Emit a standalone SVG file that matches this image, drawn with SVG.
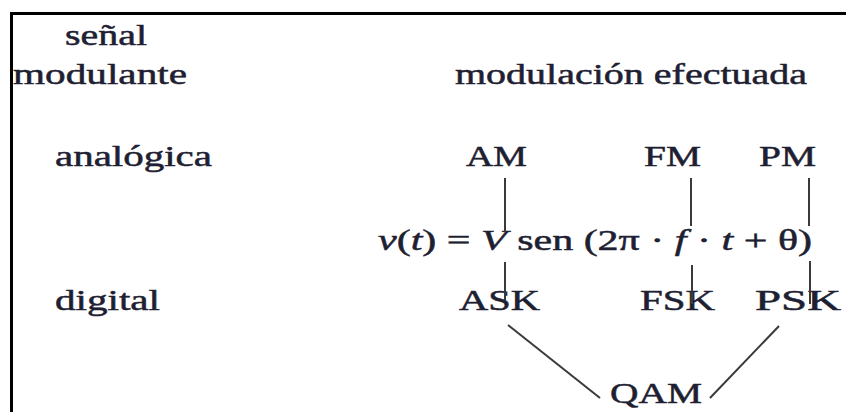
<svg xmlns="http://www.w3.org/2000/svg" width="846" height="412" viewBox="0 0 846 412">
<style>
text{font-family:"Liberation Serif","Times New Roman",serif;font-size:29px;fill:#1f1f33;stroke:#1f1f33;stroke-width:0.5}
.i{font-style:italic}
.c{stroke:#3a3a3a;stroke-width:2;fill:none}
</style>
<rect width="846" height="412" fill="#fff"/>
<path d="M11.5 412 V13.5 H846" fill="none" stroke="#000" stroke-width="3"/>
<g id="hdr-senal"><text x="65" y="45" textLength="82" lengthAdjust="spacingAndGlyphs">señal</text><text x="13" y="84" textLength="174" lengthAdjust="spacingAndGlyphs">modulante</text></g>
<g id="hdr-mod"><text x="455" y="84" textLength="352" lengthAdjust="spacingAndGlyphs">modulación efectuada</text></g>
<g id="row-analogica"><text x="55" y="166" textLength="157" lengthAdjust="spacingAndGlyphs">analógica</text></g>
<g id="AM"><text x="466" y="166" textLength="61" lengthAdjust="spacingAndGlyphs">AM</text></g>
<g id="FM"><text x="644" y="166" textLength="57" lengthAdjust="spacingAndGlyphs">FM</text></g>
<g id="PM"><text x="759" y="166" textLength="57" lengthAdjust="spacingAndGlyphs">PM</text></g>
<g id="formula"><text x="378" y="250" textLength="434" lengthAdjust="spacingAndGlyphs"><tspan class="i">v</tspan>(<tspan class="i">t</tspan>) = <tspan class="i">V</tspan> sen (2π · <tspan class="i">f</tspan> · <tspan class="i">t</tspan> + θ)</text></g>
<g id="row-digital"><text x="55" y="310" textLength="105" lengthAdjust="spacingAndGlyphs">digital</text></g>
<g id="ASK"><text x="459" y="310" textLength="81" lengthAdjust="spacingAndGlyphs">ASK</text></g>
<g id="FSK"><text x="640" y="310" textLength="75" lengthAdjust="spacingAndGlyphs">FSK</text></g>
<g id="PSK"><text x="755" y="310" textLength="86" lengthAdjust="spacingAndGlyphs">PSK</text></g>
<g id="QAM"><text x="610" y="403" textLength="92" lengthAdjust="spacingAndGlyphs">QAM</text></g>
<g id="connectors">
<line class="c" x1="505" y1="178" x2="505" y2="232"/>
<line class="c" x1="691" y1="178" x2="691" y2="226"/>
<line class="c" x1="809" y1="178" x2="809" y2="226"/>
<line class="c" x1="505" y1="262" x2="505" y2="300"/>
<line class="c" x1="692" y1="265" x2="692" y2="304"/>
<line class="c" x1="810" y1="261" x2="810" y2="304"/>
<line class="c" x1="508" y1="325" x2="600" y2="398"/>
<line class="c" x1="779" y1="326" x2="710" y2="398"/>
</g>
</svg>
